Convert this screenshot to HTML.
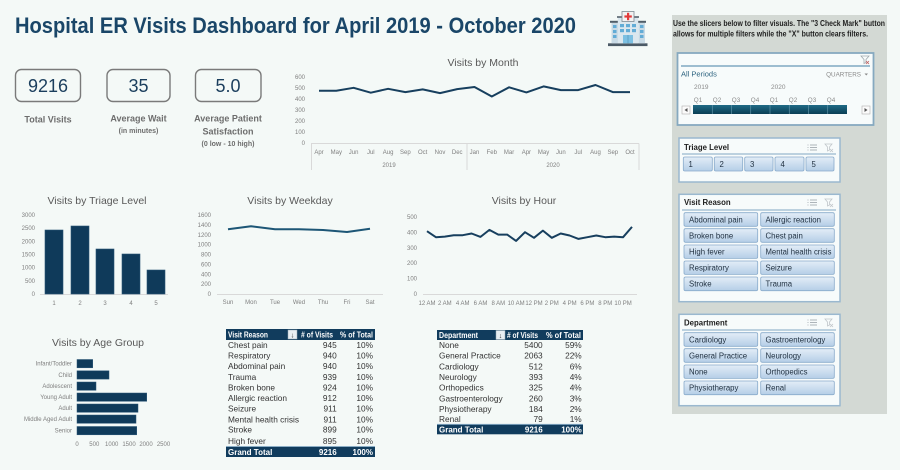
<!DOCTYPE html>
<html><head><meta charset="utf-8"><style>
html,body{margin:0;padding:0;background:#f4f9f7;}
svg{display:block;font-family:"Liberation Sans",sans-serif;}
.ax{font-size:6px;fill:#7f7f7f;}
.ct{font-size:10.5px;fill:#595959;text-anchor:middle;}
.tb{font-size:8.3px;fill:#333;}
.th{font-size:8px;fill:#fff;font-weight:bold;}
.bt{font-size:7.8px;fill:#1f2f3f;}
.sh{font-size:7.8px;fill:#1e1e1e;font-weight:bold;}
</style></head><body>
<svg width="900" height="470" viewBox="0 0 900 470" xmlns="http://www.w3.org/2000/svg">
<defs>
<linearGradient id="btn" x1="0" y1="0" x2="0" y2="1"><stop offset="0" stop-color="#e3edf7"/><stop offset="1" stop-color="#b5cee7"/></linearGradient>
<linearGradient id="tl" x1="0" y1="0" x2="0" y2="1"><stop offset="0" stop-color="#1f6a86"/><stop offset="1" stop-color="#0b3f55"/></linearGradient>
</defs>
<rect width="900" height="470" fill="#f4f9f7"/>

<!-- Title -->
<text x="15" y="33" font-size="22" font-weight="bold" fill="#1a4668" textLength="561" lengthAdjust="spacingAndGlyphs">Hospital ER Visits Dashboard for April 2019 - October 2020</text>

<!-- Hospital icon -->
<g>
<rect x="608" y="43.3" width="39.5" height="2.8" fill="#4b5a66"/>
<rect x="611.5" y="22.7" width="6.5" height="20.6" fill="#c8dae5"/>
<rect x="638.5" y="22.7" width="6.5" height="20.6" fill="#c8dae5"/>
<rect x="610" y="20.8" width="8" height="2" fill="#4f5d68"/>
<rect x="638" y="20.8" width="8" height="2" fill="#4f5d68"/>
<rect x="617.8" y="16.7" width="20.4" height="26.6" fill="#dbe7ee"/>
<rect x="617" y="16.2" width="22" height="1.6" fill="#56636d"/>
<rect x="622" y="11.5" width="12" height="10" fill="#f2f2f2" stroke="#7d8a93" stroke-width="0.8"/>
<rect x="627" y="12.8" width="2.2" height="7.4" fill="#e23a3a"/>
<rect x="624.4" y="15.4" width="7.4" height="2.2" fill="#e23a3a"/>
<g fill="#62acd6">
<rect x="620" y="24" width="4" height="3.2"/><rect x="626" y="24" width="4" height="3.2"/><rect x="632" y="24" width="4" height="3.2"/>
<rect x="620" y="29" width="4" height="3.2"/><rect x="626" y="29" width="4" height="3.2"/><rect x="632" y="29" width="4" height="3.2"/>
<rect x="613" y="25" width="3.5" height="3"/><rect x="613" y="30" width="3.5" height="3"/><rect x="613" y="35" width="3.5" height="3"/>
<rect x="640" y="25" width="3.5" height="3"/><rect x="640" y="30" width="3.5" height="3"/><rect x="640" y="35" width="3.5" height="3"/>
</g>
<rect x="623" y="35" width="10" height="8.3" fill="#7cc0e2"/>
<rect x="627.7" y="35" width="0.6" height="8.3" fill="#4f8fb3"/>
</g>

<!-- KPIs -->
<rect x="15.5" y="69.5" width="65" height="32" rx="6" fill="none" stroke="#7a7a7a" stroke-width="1.4"/>
<text x="48" y="92" font-size="18" fill="#1b3e5d" text-anchor="middle">9216</text>
<rect x="107" y="69.5" width="63" height="32" rx="6" fill="none" stroke="#7a7a7a" stroke-width="1.4"/>
<text x="138.5" y="92" font-size="18" fill="#1b3e5d" text-anchor="middle">35</text>
<rect x="195.5" y="69.5" width="65.5" height="32" rx="6" fill="none" stroke="#7a7a7a" stroke-width="1.4"/>
<text x="228" y="92" font-size="18" fill="#1b3e5d" text-anchor="middle">5.0</text>
<g font-weight="bold" fill="#6d6d6d" text-anchor="middle">
<text x="48" y="122.5" font-size="9">Total Visits</text>
<text x="138.5" y="121.5" font-size="9">Average Wait</text>
<text x="138.5" y="133" font-size="7">(in minutes)</text>
<text x="228" y="121.5" font-size="9">Average Patient</text>
<text x="228" y="134.5" font-size="9">Satisfaction</text>
<text x="228" y="146" font-size="7">(0 low - 10 high)</text>
</g>

<!-- Visits by Month -->
<text class="ct" x="483" y="66">Visits by Month</text>
<g class="ax" text-anchor="end">
<text x="305" y="79">600</text><text x="305" y="90">500</text><text x="305" y="101">400</text><text x="305" y="112">300</text><text x="305" y="123">200</text><text x="305" y="134">100</text><text x="305" y="145">0</text>
</g>
<g stroke="#d9d9d9" stroke-width="1" fill="none">
<line x1="311" y1="143.5" x2="639" y2="143.5"/>
<line x1="311.5" y1="143.5" x2="311.5" y2="170"/>
<line x1="467" y1="143.5" x2="467" y2="170"/>
<line x1="639" y1="143.5" x2="639" y2="170"/>
</g>
<polyline fill="none" stroke="#173f5e" stroke-width="2" stroke-linejoin="round" points="319,90.75 336.3,90.75 353.6,87.8 370.8,92.7 388.1,88.8 405.4,92.1 422.7,89.4 440,93.1 457.2,89.1 474.5,87 491.8,96.5 509.1,87.3 526.4,92.4 543.6,86.4 560.9,90.1 578.2,90.1 595.5,85 612.8,92.1 630,92.1"/>
<g class="ax" text-anchor="middle">
<text x="319" y="154">Apr</text><text x="336.3" y="154">May</text><text x="353.6" y="154">Jun</text><text x="370.8" y="154">Jul</text><text x="388.1" y="154">Aug</text><text x="405.4" y="154">Sep</text><text x="422.7" y="154">Oct</text><text x="440" y="154">Nov</text><text x="457.2" y="154">Dec</text><text x="474.5" y="154">Jan</text><text x="491.8" y="154">Feb</text><text x="509.1" y="154">Mar</text><text x="526.4" y="154">Apr</text><text x="543.6" y="154">May</text><text x="560.9" y="154">Jun</text><text x="578.2" y="154">Jul</text><text x="595.5" y="154">Aug</text><text x="612.8" y="154">Sep</text><text x="630" y="154">Oct</text>
<text x="389" y="167">2019</text><text x="553" y="167">2020</text>
</g>

<!-- Triage -->
<text class="ct" x="97" y="204">Visits by Triage Level</text>
<g class="ax" text-anchor="end">
<text x="35" y="217">3000</text><text x="35" y="230.2">2500</text><text x="35" y="243.3">2000</text><text x="35" y="256.5">1500</text><text x="35" y="269.7">1000</text><text x="35" y="282.8">500</text><text x="35" y="296">0</text>
</g>
<line x1="40" y1="294.5" x2="168" y2="294.5" stroke="#d9d9d9"/>
<g fill="#0f3a5a" stroke="#2a5677" stroke-width="0.6">
<rect x="45" y="230" width="18" height="64"/>
<rect x="71" y="226" width="18" height="68"/>
<rect x="96" y="249" width="18" height="45"/>
<rect x="122" y="254" width="18" height="40"/>
<rect x="147" y="270" width="18" height="24"/>
</g>
<g class="ax" text-anchor="middle">
<text x="54" y="305">1</text><text x="80" y="305">2</text><text x="105" y="305">3</text><text x="131" y="305">4</text><text x="156" y="305">5</text>
</g>

<!-- Weekday -->
<text class="ct" x="290" y="204">Visits by Weekday</text>
<g class="ax" text-anchor="end">
<text x="211" y="217">1600</text><text x="211" y="226.9">1400</text><text x="211" y="236.8">1200</text><text x="211" y="246.6">1000</text><text x="211" y="256.5">800</text><text x="211" y="266.4">600</text><text x="211" y="276.3">400</text><text x="211" y="286.1">200</text><text x="211" y="296">0</text>
</g>
<line x1="217" y1="294.5" x2="383" y2="294.5" stroke="#d9d9d9"/>
<polyline fill="none" stroke="#1d5676" stroke-width="2" stroke-linejoin="round" points="228,229.3 251,226.3 275,229.3 299,229.3 323,230 347,232 370,228.7"/>
<g class="ax" text-anchor="middle">
<text x="228" y="304">Sun</text><text x="251" y="304">Mon</text><text x="275" y="304">Tue</text><text x="299" y="304">Wed</text><text x="323" y="304">Thu</text><text x="347" y="304">Fri</text><text x="370" y="304">Sat</text>
</g>

<!-- Hour -->
<text class="ct" x="524" y="204">Visits by Hour</text>
<g class="ax" text-anchor="end">
<text x="417" y="219">500</text><text x="417" y="234.4">400</text><text x="417" y="249.8">300</text><text x="417" y="265.2">200</text><text x="417" y="280.6">100</text><text x="417" y="296">0</text>
</g>
<line x1="423" y1="294.5" x2="637" y2="294.5" stroke="#d9d9d9"/>
<polyline fill="none" stroke="#173f5e" stroke-width="2" stroke-linejoin="round" points="427,231.2 435.9,237.2 444.8,236.6 453.7,235.2 462.7,235.2 471.6,233.5 480.5,236.9 489.4,229.9 498.3,234.6 507.2,234.6 516.1,240.9 525,232.2 534,237.8 542.9,230.6 551.8,237.8 560.7,233.5 569.6,235.5 578.5,238.9 587.4,237.2 596.3,235.5 605.3,237.2 614.2,236.6 623.1,237.2 632,226.9"/>
<g class="ax" text-anchor="middle">
<text x="427" y="305">12 AM</text><text x="444.8" y="305">2 AM</text><text x="462.7" y="305">4 AM</text><text x="480.5" y="305">6 AM</text><text x="498.3" y="305">8 AM</text><text x="516.1" y="305">10 AM</text><text x="534" y="305">12 PM</text><text x="551.8" y="305">2 PM</text><text x="569.6" y="305">4 PM</text><text x="587.4" y="305">6 PM</text><text x="605.3" y="305">8 PM</text><text x="623.1" y="305">10 PM</text>
</g>

<!-- Age Group -->
<text class="ct" x="98" y="346">Visits by Age Group</text>
<g class="ax" text-anchor="end">
<text x="72" y="365.5">Infant/Toddler</text>
<text x="72" y="377">Child</text>
<text x="72" y="388">Adolescent</text>
<text x="72" y="399">Young Adult</text>
<text x="72" y="410">Adult</text>
<text x="72" y="421">Middle Aged Adult</text>
<text x="72" y="432.5">Senior</text>
</g>
<g fill="#0f3a5a" stroke="#2a5677" stroke-width="0.5">
<rect x="77" y="359.5" width="15.7" height="8.3"/>
<rect x="77" y="370.8" width="32" height="8.3"/>
<rect x="77" y="382" width="19" height="8.3"/>
<rect x="77" y="393" width="69.7" height="8.3"/>
<rect x="77" y="404" width="61" height="8.3"/>
<rect x="77" y="415" width="59" height="8.3"/>
<rect x="77" y="426.5" width="59.7" height="8.3"/>
</g>
<g class="ax" text-anchor="middle">
<text x="77" y="446">0</text><text x="94.3" y="446">500</text><text x="111.7" y="446">1000</text><text x="129" y="446">1500</text><text x="146" y="446">2000</text><text x="163.5" y="446">2500</text>
</g>

<!-- Visit Reason table -->
<rect x="226" y="329" width="149" height="11" fill="#113c5d"/>
<text class="th" x="228" y="337.5" textLength="40" lengthAdjust="spacingAndGlyphs">Visit Reason</text>
<rect x="288" y="330" width="9" height="9" fill="#e8eef2" stroke="#9aa9b5" stroke-width="0.5"/>
<text x="292.5" y="337.5" font-size="7" fill="#333" text-anchor="middle">↓</text>
<text class="th" x="301" y="337.5" textLength="32" lengthAdjust="spacingAndGlyphs"># of Visits</text>
<text class="th" x="340" y="337.5" textLength="33" lengthAdjust="spacingAndGlyphs">% of Total</text>
<g class="tb">
<text x="228" y="348">Chest pain</text><text x="336.7" y="348" text-anchor="end">945</text><text x="373" y="348" text-anchor="end">10%</text>
<text x="228" y="358.7">Respiratory</text><text x="336.7" y="358.7" text-anchor="end">940</text><text x="373" y="358.7" text-anchor="end">10%</text>
<text x="228" y="369">Abdominal pain</text><text x="336.7" y="369" text-anchor="end">940</text><text x="373" y="369" text-anchor="end">10%</text>
<text x="228" y="380">Trauma</text><text x="336.7" y="380" text-anchor="end">939</text><text x="373" y="380" text-anchor="end">10%</text>
<text x="228" y="390.3">Broken bone</text><text x="336.7" y="390.3" text-anchor="end">924</text><text x="373" y="390.3" text-anchor="end">10%</text>
<text x="228" y="401">Allergic reaction</text><text x="336.7" y="401" text-anchor="end">912</text><text x="373" y="401" text-anchor="end">10%</text>
<text x="228" y="411.7">Seizure</text><text x="336.7" y="411.7" text-anchor="end">911</text><text x="373" y="411.7" text-anchor="end">10%</text>
<text x="228" y="422.3">Mental health crisis</text><text x="336.7" y="422.3" text-anchor="end">911</text><text x="373" y="422.3" text-anchor="end">10%</text>
<text x="228" y="432.7">Stroke</text><text x="336.7" y="432.7" text-anchor="end">899</text><text x="373" y="432.7" text-anchor="end">10%</text>
<text x="228" y="444">High fever</text><text x="336.7" y="444" text-anchor="end">895</text><text x="373" y="444" text-anchor="end">10%</text>
</g>
<rect x="226" y="446.5" width="149" height="10.5" fill="#113c5d"/>
<line x1="226" y1="446.5" x2="375" y2="446.5" stroke="#8fb4cf" stroke-width="0.8"/>
<text class="th" x="228" y="455">Grand Total</text>
<text class="th" x="336.7" y="455" text-anchor="end">9216</text>
<text class="th" x="373" y="455" text-anchor="end">100%</text>

<!-- Department table -->
<rect x="437" y="330" width="146" height="10" fill="#113c5d"/>
<text class="th" x="439" y="338" textLength="39" lengthAdjust="spacingAndGlyphs">Department</text>
<rect x="496" y="330.5" width="9" height="9" fill="#e8eef2" stroke="#9aa9b5" stroke-width="0.5"/>
<text x="500.5" y="338" font-size="7" fill="#333" text-anchor="middle">↓</text>
<text class="th" x="507" y="338" textLength="31" lengthAdjust="spacingAndGlyphs"># of Visits</text>
<text class="th" x="546" y="338" textLength="35" lengthAdjust="spacingAndGlyphs">% of Total</text>
<g class="tb">
<text x="439" y="348">None</text><text x="542.7" y="348" text-anchor="end">5400</text><text x="581.7" y="348" text-anchor="end">59%</text>
<text x="439" y="358.7">General Practice</text><text x="542.7" y="358.7" text-anchor="end">2063</text><text x="581.7" y="358.7" text-anchor="end">22%</text>
<text x="439" y="369.3">Cardiology</text><text x="542.7" y="369.3" text-anchor="end">512</text><text x="581.7" y="369.3" text-anchor="end">6%</text>
<text x="439" y="380">Neurology</text><text x="542.7" y="380" text-anchor="end">393</text><text x="581.7" y="380" text-anchor="end">4%</text>
<text x="439" y="390.7">Orthopedics</text><text x="542.7" y="390.7" text-anchor="end">325</text><text x="581.7" y="390.7" text-anchor="end">4%</text>
<text x="439" y="401.3">Gastroenterology</text><text x="542.7" y="401.3" text-anchor="end">260</text><text x="581.7" y="401.3" text-anchor="end">3%</text>
<text x="439" y="412">Physiotherapy</text><text x="542.7" y="412" text-anchor="end">184</text><text x="581.7" y="412" text-anchor="end">2%</text>
<text x="439" y="422">Renal</text><text x="542.7" y="422" text-anchor="end">79</text><text x="581.7" y="422" text-anchor="end">1%</text>
</g>
<rect x="437" y="424.3" width="146" height="10" fill="#113c5d"/>
<line x1="437" y1="424.3" x2="583" y2="424.3" stroke="#8fb4cf" stroke-width="0.8"/>
<text class="th" x="439" y="432.5">Grand Total</text>
<text class="th" x="542.7" y="432.5" text-anchor="end">9216</text>
<text class="th" x="581.7" y="432.5" text-anchor="end">100%</text>

<!-- Slicer panel -->
<rect x="672" y="15" width="215" height="399" fill="#d3d9d4"/>
<text x="673" y="26" font-size="8" font-weight="bold" fill="#1e1e1e" textLength="212" lengthAdjust="spacingAndGlyphs">Use the slicers below to filter visuals. The "3 Check Mark" button</text>
<text x="673" y="36.5" font-size="8" font-weight="bold" fill="#1e1e1e" textLength="195" lengthAdjust="spacingAndGlyphs">allows for multiple filters while the "X" button clears filters.</text>

<!-- Timeline -->
<rect x="677.5" y="53" width="196" height="72" fill="#f7fbfb" stroke="#86a9c0" stroke-width="1.8"/>
<line x1="681" y1="66" x2="870" y2="66" stroke="#9dbdd0" stroke-width="2"/>
<g stroke="#a0a8ad" stroke-width="0.8" fill="none"><path d="M861 56 h8 l-3 3.5 v3 l-2 1 v-4 z"/><path d="M866 61 l3 3 M869 61 l-3 3" stroke="#c06060"/></g>
<text x="681" y="76.5" font-size="7.5" fill="#2e6480">All Periods</text>
<text x="861" y="76.5" font-size="6.3" fill="#8a8a8a" text-anchor="end">QUARTERS</text>
<path d="M864.5 73.5 h3.5 l-1.75 2 z" fill="#8a8a8a"/>
<g font-size="6.5" fill="#8a8a8a">
<text x="694" y="89">2019</text><text x="771" y="89">2020</text>
</g>
<g font-size="6.3" fill="#8a8a8a" text-anchor="middle">
<text x="698" y="102">Q1</text><text x="717" y="102">Q2</text><text x="736" y="102">Q3</text><text x="755" y="102">Q4</text><text x="774" y="102">Q1</text><text x="793" y="102">Q2</text><text x="812" y="102">Q3</text><text x="831" y="102">Q4</text>
</g>
<rect x="693" y="105" width="154" height="9" fill="url(#tl)"/>
<g stroke="#6b9db1" stroke-width="0.6">
<line x1="712.25" y1="105" x2="712.25" y2="114"/><line x1="731.5" y1="105" x2="731.5" y2="114"/><line x1="750.75" y1="105" x2="750.75" y2="114"/><line x1="770" y1="105" x2="770" y2="114"/><line x1="789.25" y1="105" x2="789.25" y2="114"/><line x1="808.5" y1="105" x2="808.5" y2="114"/><line x1="827.75" y1="105" x2="827.75" y2="114"/>
</g>
<rect x="682" y="106" width="8" height="8" fill="#fbfbfb" stroke="#b0b0b0" stroke-width="0.6"/>
<path d="M687.5 108 v4 l-3 -2 z" fill="#555"/>
<rect x="862" y="106" width="8" height="8" fill="#fbfbfb" stroke="#b0b0b0" stroke-width="0.6"/>
<path d="M864.5 108 v4 l3 -2 z" fill="#555"/>

<!-- Triage slicer -->
<rect x="679" y="138" width="161" height="44" fill="#f7fbfb" stroke="#9ab8cf" stroke-width="1.5"/>
<text class="sh" x="684" y="150">Triage Level</text>
<g stroke="#9aa3a9" stroke-width="0.8"><line x1="810" y1="145" x2="817" y2="145"/><line x1="810" y1="147.5" x2="817" y2="147.5"/><line x1="810" y1="150" x2="817" y2="150"/><line x1="807.5" y1="145" x2="808.5" y2="145"/><line x1="807.5" y1="147.5" x2="808.5" y2="147.5"/><line x1="807.5" y1="150" x2="808.5" y2="150"/></g>
<g stroke="#c0c6ca" stroke-width="0.8" fill="none"><path d="M825 144 h7 l-2.5 3 v3 l-2 1 v-4 z"/><path d="M830 149 l3 3 M833 149 l-3 3"/></g>
<line x1="682" y1="154" x2="836" y2="154" stroke="#a9c3d6" stroke-width="1.5"/>
<g fill="url(#btn)" stroke="#89abcb" stroke-width="0.8">
<rect x="683.3" y="157" width="29" height="14" rx="1.5"/>
<rect x="714.3" y="157" width="28.4" height="14" rx="1.5"/>
<rect x="744.7" y="157" width="28.3" height="14" rx="1.5"/>
<rect x="775" y="157" width="29" height="14" rx="1.5"/>
<rect x="806" y="157" width="28" height="14" rx="1.5"/>
</g>
<g class="bt">
<text x="688.5" y="167">1</text><text x="719.5" y="167">2</text><text x="750" y="167">3</text><text x="780.5" y="167">4</text><text x="811.5" y="167">5</text>
</g>

<!-- Visit Reason slicer -->
<rect x="679" y="194.3" width="161" height="107.4" fill="#f7fbfb" stroke="#9ab8cf" stroke-width="1.5"/>
<text class="sh" x="684" y="205">Visit Reason</text>
<g stroke="#9aa3a9" stroke-width="0.8"><line x1="810" y1="200" x2="817" y2="200"/><line x1="810" y1="202.5" x2="817" y2="202.5"/><line x1="810" y1="205" x2="817" y2="205"/><line x1="807.5" y1="200" x2="808.5" y2="200"/><line x1="807.5" y1="202.5" x2="808.5" y2="202.5"/><line x1="807.5" y1="205" x2="808.5" y2="205"/></g>
<g stroke="#c0c6ca" stroke-width="0.8" fill="none"><path d="M825 199 h7 l-2.5 3 v3 l-2 1 v-4 z"/><path d="M830 204 l3 3 M833 204 l-3 3"/></g>
<line x1="682" y1="210" x2="836" y2="210" stroke="#a9c3d6" stroke-width="1.5"/>
<g fill="url(#btn)" stroke="#89abcb" stroke-width="0.8">
<rect x="684" y="212.7" width="73.7" height="13.6" rx="1.5"/><rect x="760.7" y="212.7" width="73.6" height="13.6" rx="1.5"/>
<rect x="684" y="228.7" width="73.7" height="13.6" rx="1.5"/><rect x="760.7" y="228.7" width="73.6" height="13.6" rx="1.5"/>
<rect x="684" y="245" width="73.7" height="13.4" rx="1.5"/><rect x="760.7" y="245" width="73.6" height="13.4" rx="1.5"/>
<rect x="684" y="261" width="73.7" height="13.4" rx="1.5"/><rect x="760.7" y="261" width="73.6" height="13.4" rx="1.5"/>
<rect x="684" y="277" width="73.7" height="13.7" rx="1.5"/><rect x="760.7" y="277" width="73.6" height="13.7" rx="1.5"/>
</g>
<g class="bt">
<text x="689" y="222.3">Abdominal pain</text><text x="765.5" y="222.3">Allergic reaction</text>
<text x="689" y="238.3">Broken bone</text><text x="765.5" y="238.3">Chest pain</text>
<text x="689" y="254.5">High fever</text><text x="765.5" y="254.5" textLength="66" lengthAdjust="spacingAndGlyphs">Mental health crisis</text>
<text x="689" y="270.5">Respiratory</text><text x="765.5" y="270.5">Seizure</text>
<text x="689" y="286.6">Stroke</text><text x="765.5" y="286.6">Trauma</text>
</g>

<!-- Department slicer -->
<rect x="679" y="314.3" width="161" height="91.4" fill="#f7fbfb" stroke="#9ab8cf" stroke-width="1.5"/>
<text class="sh" x="684" y="325.5">Department</text>
<g stroke="#9aa3a9" stroke-width="0.8"><line x1="810" y1="320" x2="817" y2="320"/><line x1="810" y1="322.5" x2="817" y2="322.5"/><line x1="810" y1="325" x2="817" y2="325"/><line x1="807.5" y1="320" x2="808.5" y2="320"/><line x1="807.5" y1="322.5" x2="808.5" y2="322.5"/><line x1="807.5" y1="325" x2="808.5" y2="325"/></g>
<g stroke="#c0c6ca" stroke-width="0.8" fill="none"><path d="M825 319 h7 l-2.5 3 v3 l-2 1 v-4 z"/><path d="M830 324 l3 3 M833 324 l-3 3"/></g>
<line x1="682" y1="330" x2="836" y2="330" stroke="#a9c3d6" stroke-width="1.5"/>
<g fill="url(#btn)" stroke="#89abcb" stroke-width="0.8">
<rect x="684" y="332.7" width="73.7" height="13.6" rx="1.5"/><rect x="760.7" y="332.7" width="73.6" height="13.6" rx="1.5"/>
<rect x="684" y="348.7" width="73.7" height="13.6" rx="1.5"/><rect x="760.7" y="348.7" width="73.6" height="13.6" rx="1.5"/>
<rect x="684" y="365" width="73.7" height="13.4" rx="1.5"/><rect x="760.7" y="365" width="73.6" height="13.4" rx="1.5"/>
<rect x="684" y="381" width="73.7" height="13.7" rx="1.5"/><rect x="760.7" y="381" width="73.6" height="13.7" rx="1.5"/>
</g>
<g class="bt">
<text x="689" y="342.3">Cardiology</text><text x="765.5" y="342.3">Gastroenterology</text>
<text x="689" y="358.3">General Practice</text><text x="765.5" y="358.3">Neurology</text>
<text x="689" y="374.5">None</text><text x="765.5" y="374.5">Orthopedics</text>
<text x="689" y="390.6">Physiotherapy</text><text x="765.5" y="390.6">Renal</text>
</g>
</svg>
</body></html>
